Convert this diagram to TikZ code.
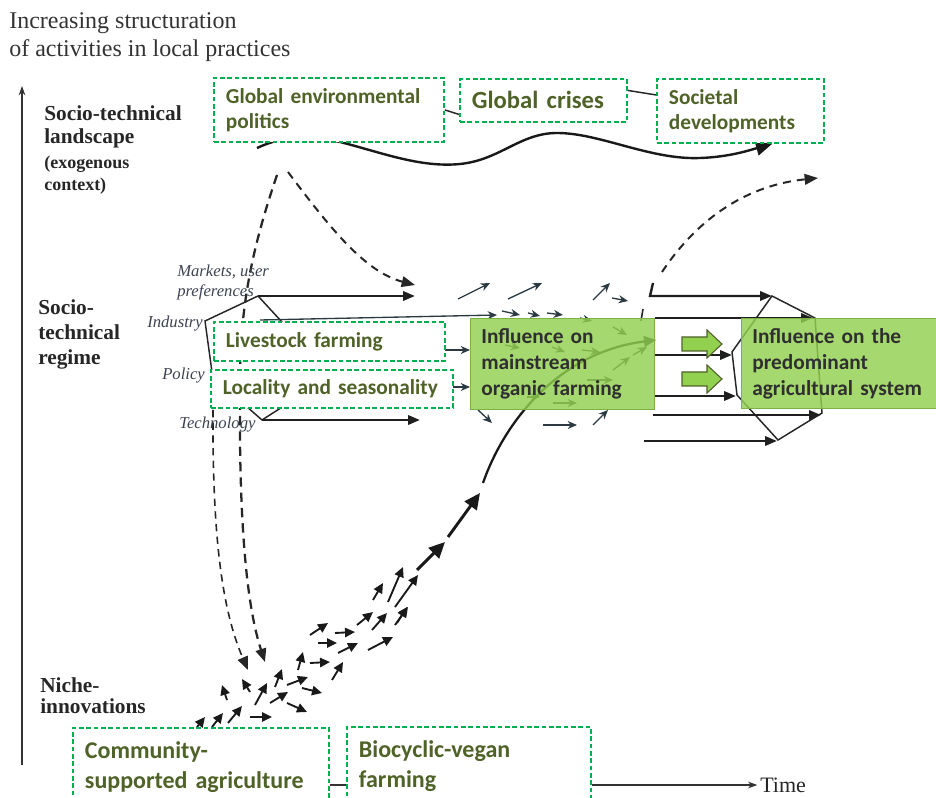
\documentclass[tikz,border=0pt]{standalone}
\usepackage{fontspec}
\setmainfont{Liberation Serif}
\newfontfamily\carl{Carlito}
\usetikzlibrary{arrows.meta,calc}
\definecolor{olivetxt}{HTML}{4F6228}
\definecolor{dashgreen}{HTML}{00B050}
\definecolor{fillgreen}{HTML}{92D050}
\definecolor{boxtxt}{HTML}{2F2F2F}
\definecolor{slate}{HTML}{2B3A42}
\definecolor{labtxt}{HTML}{3C4250}
\begin{document}
\begin{tikzpicture}[x=0.75pt,y=-0.75pt,
  gbox/.style={draw=dashgreen, line width=1.4pt, dash pattern=on 3.5pt off 2pt, fill=white,
    text=olivetxt, font=\carl\bfseries\fontsize{16}{19}\selectfont, align=left,
    inner xsep=9pt, inner ysep=0pt, anchor=north west},
  fbox/.style={draw=fillgreen!85!black, line width=0.5pt, fill=fillgreen, fill opacity=0.82, text opacity=1,
    text=boxtxt, font=\carl\bfseries\fontsize{16}{19.5}\selectfont, align=left,
    inner xsep=8.25pt, inner ysep=0pt, anchor=north west},
  lvl/.style={font=\bfseries\fontsize{16}{17.25}\selectfont, align=left, inner sep=0pt, anchor=north west, text=black!85},
  ital/.style={font=\itshape\fontsize{12.5}{15}\selectfont, align=left, inner sep=0pt, text=labtxt},
  axis/.style={line width=0.8pt, black!80, -{Stealth[length=7pt,width=5pt]}},
  wave/.style={line width=1.8pt, black!90, -{Triangle[length=12pt,width=11pt]}},
  dsh/.style={line width=1.5pt, black!85, dash pattern=on 6pt off 4.5pt, -{Triangle[length=10pt,width=8pt]}},
  hexl/.style={line width=1.1pt, black!85},
  bigarr/.style={line width=1.8pt, black!88, -{Triangle[length=9pt,width=7pt]}},
  sa/.style={slate, line width=1pt, -{Stealth[length=7pt,width=6pt]}},
  na/.style={black!90, line width=1.4pt, -{Triangle[length=7.5pt,width=7pt]}},
  traj/.style={line width=2.2pt, black!90, -{Triangle[length=12pt,width=11pt]}},
  garrow/.style={draw=olivetxt, line width=0.8pt, fill=fillgreen}
]
\useasboundingbox (0,0) rectangle (936,798);

% ---------- axis and level labels ----------
\node[anchor=north west, font=\fontsize{18}{21}\selectfont, align=left, inner sep=0pt, text=black!80] (title) at (9,12)
  {Increasing structuration\\of activities in local practices};
\coordinate (axbot) at (22,765);
\coordinate (axtop) at (22,86);
\draw[axis] (axbot) -- (axtop);
\node[lvl] (land) at (44,105) {Socio-technical\\landscape};
\node[lvl, font=\bfseries\fontsize{13.5}{16.5}\selectfont] (exo) at (44,156) {(exogenous\\context)};
\node[lvl, font=\bfseries\fontsize{16}{18.75}\selectfont] (reg) at (38,299) {Socio-\\technical\\regime};
\node[lvl, font=\bfseries\fontsize{16}{16}\selectfont] (niche) at (40,677) {Niche-\\innovations};

% ---------- landscape wave ----------
\draw[wave] (257,148) .. controls (285,135) and (310,135) .. (340,142)
  .. controls (380,152) and (420,168) .. (460,164)
  .. controls (500,160) and (520,133) .. (557,133)
  .. controls (600,133) and (650,160) .. (700,158)
  .. controls (730,157) and (750,150) .. (772,144);

% ---------- dashed influences ----------
\draw[dsh] (288,172) .. controls (330,228) and (365,272) .. (415,285);
\draw[dsh, dash pattern=on 7pt off 4.5pt, line width=1.7pt] (277,175) .. controls (255,240) and (240,300) .. (240,380)
  -- (240,440) .. controls (241,540) and (248,610) .. (265,662);
\draw[dsh, line width=1.2pt, dash pattern=on 5.5pt off 4pt] (213,410) -- (213,440) .. controls (214,540) and (222,610) .. (248,670);
\draw[dsh] (662,272) .. controls (700,215) and (750,185) .. (818,178);

% ---------- regime structure (left) ----------
\coordinate (mk) at (258,296);
\coordinate (ind) at (205,321);
\coordinate (pol) at (212,372);
\coordinate (tech) at (262,420);
\draw[hexl] (mk) -- (ind) -- (pol);
\draw[hexl] (mk) -- (282,322);
\draw[hexl] (tech) -- (246,406);
\draw[hexl] (tech) -- (287,404);
\draw[bigarr] (mk) -- (415,296);
\draw[bigarr] (tech) -- (420,420);

% ---------- small regime arrows ----------
\foreach \x/\y/\u/\v in {458/299/490/283, 508/299/542/283, 593/300/610/283, 612/298/628/301,
  260/320/497/315, 502/311/520/315, 528/313/540/316, 547/313/563/315,
  445/350/470/350, 453/387/470/387, 478/410/492/423, 543/425/577/425, 593/425/608/410,
  580/318/592/321, 613/327/627/335, 552/347/565/352, 582/350/600/352, 633/355/647/347,
  613/370/630/357, 587/380/613/380, 553/403/577/403, 527/397/540/397, 505/345/520/348}
  \draw[sa] (\x,\y) -- (\u,\v);
\draw[line width=1.2pt, black!85] (643,309) -- (641,321);

% ---------- niche arrows ----------
\foreach \x/\y/\u/\v in {197/727/205/717, 212/727/223/713, 228/723/242/706, 250/717/272/717,
  287/703/307/712, 255/705/267/683, 270/703/288/692, 227/700/222/685, 250/692/242/679,
  275/687/282/669, 287/685/308/677, 298/670/303/652, 302/688/322/693, 310/663/330/662,
  332/680/343/662, 310/635/328/623, 318/643/337/643, 335/633/355/632, 338/653/358/643,
  357/625/373/612, 372/630/387/613, 368/650/393/637, 395/625/408/607, 373/600/383/583,
  388/602/403/567, 395/607/418/575, 397/623/407/607}
  \draw[na] (\x,\y) -- (\u,\v);

% ---------- niche trajectory ----------
\draw[traj] (417,570) -- (445,542);
\draw[traj] (448,537) -- (480,493);
\draw[traj, line width=1.7pt, -{Triangle[length=9pt,width=8pt]}] (483,483) .. controls (505,420) and (560,352) .. (656,340);

% ---------- regime structure (right) ----------
\coordinate (h1) at (772,296);
\coordinate (h2) at (815,318);
\coordinate (h3) at (822,413);
\coordinate (h4) at (778,440);
\coordinate (h5) at (737,395);
\coordinate (h6) at (732,352);
\draw[hexl] (h1) -- (h2) -- (h3) -- (h4) -- (h5) -- (h6) -- cycle;
\draw[bigarr] (653,283) -- (650,296) -- (h1);
\draw[bigarr] (655,318) -- (813,318);
\draw[bigarr] (655,355) -- (732,355);
\draw[bigarr] (655,396) -- (736,396);
\draw[bigarr] (653,415) -- (821,415);
\draw[bigarr] (644,441) -- (777,441);

% ---------- boxes ----------
\node[gbox, minimum width=172.5pt, minimum height=48pt, text width=154.5pt] (gep) at (213,77) {Global environmental\\politics};
\node[gbox, minimum width=125.25pt, minimum height=32.25pt, text width=107.25pt,
  font=\carl\bfseries\fontsize{18.5}{22}\selectfont] (gc) at (459,78) {Global crises};
\node[gbox, minimum width=125.25pt, minimum height=48pt, text width=107.25pt] (sd) at (656,78) {Societal\\developments};
\draw[line width=1.1pt, black!85] (gep.east) -- ($(gc.west)+(0,14)$);
\draw[line width=1.1pt, black!85] ($(gc.east)+(0,-10)$) -- ($(sd.west)+(0,-16)$);

\node[gbox, minimum width=173.25pt, minimum height=29.25pt, text width=155.25pt] (lf) at (213,321) {Livestock farming};
\node[gbox, minimum width=181.5pt, minimum height=28.5pt, text width=163.5pt] (ls) at (210,369) {Locality and seasonality};

\node[fbox, minimum width=138pt, minimum height=68.25pt, text width=121.5pt] (imo) at (470,318) {Influence on\\mainstream\\organic farming};
\node[fbox, minimum width=150pt, minimum height=67.5pt, text width=133.5pt] (ipa) at (741,318) {Influence on the\\predominant\\agricultural system};

% green block arrows
\draw[garrow] (682,337) -- (707,337) -- (707,330) -- (722,344) -- (707,358) -- (707,351) -- (682,351) -- cycle;
\draw[garrow] (682,372) -- (707,372) -- (707,365) -- (722,379) -- (707,393) -- (707,386) -- (682,386) -- cycle;

% niche boxes
\node[gbox, minimum width=192pt, minimum height=58.5pt, text width=174pt,
  font=\carl\bfseries\fontsize{18}{22.5}\selectfont] (csa) at (72,727) {Community-\\supported agriculture};
\node[gbox, minimum width=183pt, minimum height=58.5pt, text width=165pt,
  font=\carl\bfseries\fontsize{18}{22.5}\selectfont] (bvf) at (346,726) {Biocyclic-vegan\\farming};

% time axis
\node[font=\fontsize{16.5}{19}\selectfont, anchor=west, inner sep=0pt, text=black!85] (time) at (760,785) {Time};
\draw[line width=0.8pt, black!80] (csa.east |- time.west) -- (bvf.west |- time.west);
\draw[axis] (bvf.east |- time.west) -- ([xshift=-2pt]time.west);

% regime italic labels
\node[ital, anchor=north west] (mkt) at (177,265) {Markets, user\\preferences};
\node[ital, anchor=north west] (indl) at (147,316) {Industry};
\node[ital, anchor=north west] (poll) at (162,368) {Policy};
\node[ital, anchor=north west] (techl) at (179,417) {Technology};
\end{tikzpicture}
\end{document}
